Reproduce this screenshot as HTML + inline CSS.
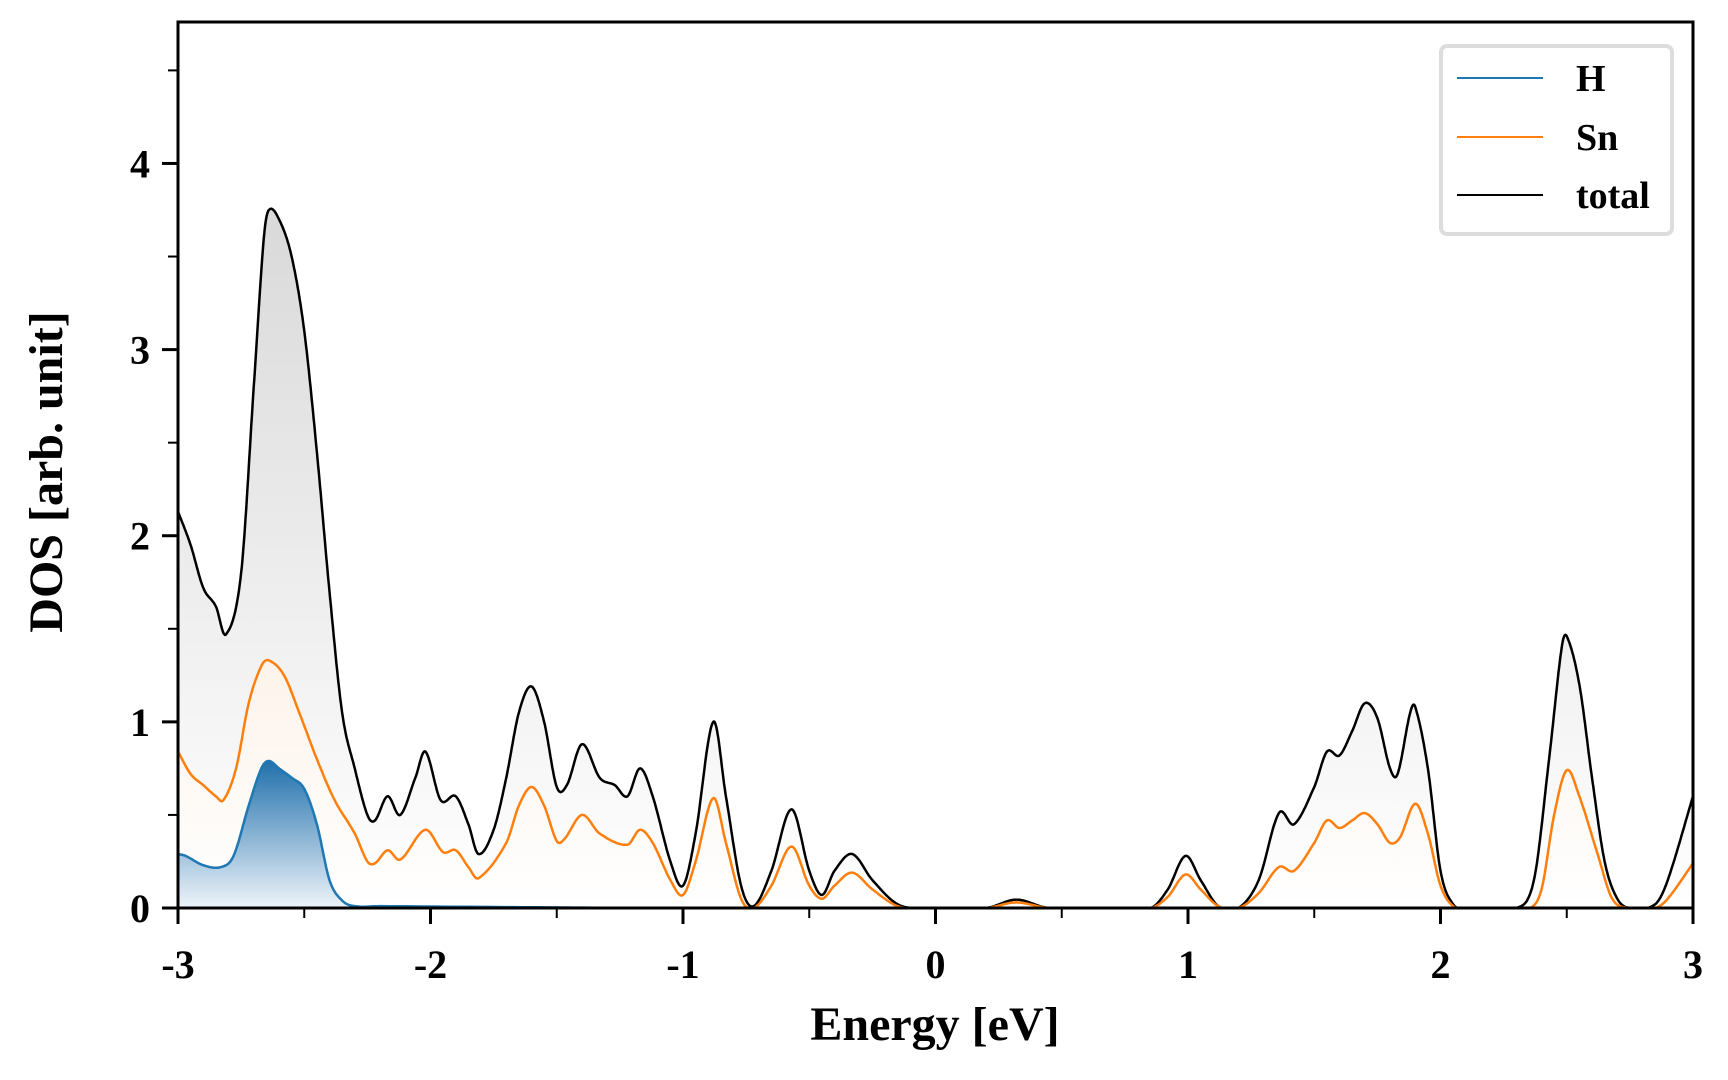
<!DOCTYPE html>
<html><head><meta charset="utf-8"><style>
html,body{margin:0;padding:0;background:#fff;}
svg{display:block;font-family:"Liberation Serif",serif;font-weight:bold;}
</style></head><body>
<svg id="chart" width="1728" height="1080" viewBox="0 0 1728 1080">
<defs>
<linearGradient id="gTot" gradientUnits="userSpaceOnUse" x1="0" y1="210" x2="0" y2="908"><stop offset="0" stop-color="#d9d9d9"/><stop offset="1" stop-color="#ffffff"/></linearGradient>
<linearGradient id="gSn" gradientUnits="userSpaceOnUse" x1="0" y1="660" x2="0" y2="908"><stop offset="0" stop-color="#fdf3ea"/><stop offset="1" stop-color="#ffffff"/></linearGradient>
<linearGradient id="gH" gradientUnits="userSpaceOnUse" x1="0" y1="760" x2="0" y2="908"><stop offset="0" stop-color="#1f6fab"/><stop offset="1" stop-color="#eef4fa"/></linearGradient>
</defs>
<g id="fills"></g><g id="lines"></g><g id="axes"></g>
</svg>
<script>
const totalX=[-3,-2.95,-2.9,-2.85,-2.81,-2.75,-2.7,-2.66,-2.64,-2.6,-2.55,-2.5,-2.45,-2.4,-2.35,-2.3,-2.25,-2.22,-2.17,-2.12,-2.06,-2.02,-1.96,-1.9,-1.85,-1.81,-1.75,-1.7,-1.65,-1.6,-1.55,-1.5,-1.46,-1.4,-1.33,-1.27,-1.22,-1.17,-1.12,-1.05,-1.0,-0.95,-0.88,-0.83,-0.77,-0.72,-0.65,-0.57,-0.5,-0.45,-0.4,-0.33,-0.25,-0.15,-0.05,0.2,0.32,0.45,0.85,0.92,0.99,1.05,1.12,1.2,1.28,1.36,1.42,1.5,1.55,1.6,1.65,1.7,1.75,1.8,1.83,1.88,1.9,1.95,2.0,2.05,2.1,2.3,2.37,2.43,2.48,2.5,2.55,2.6,2.65,2.7,2.75,2.85,2.9,3.0];
const totalY=[2.13,1.95,1.72,1.62,1.47,1.8,2.8,3.6,3.75,3.7,3.5,3.1,2.45,1.7,1.05,0.75,0.5,0.47,0.6,0.5,0.7,0.84,0.58,0.6,0.45,0.29,0.42,0.7,1.05,1.19,1.0,0.65,0.66,0.88,0.7,0.66,0.6,0.75,0.6,0.25,0.12,0.4,1.0,0.6,0.12,0.01,0.2,0.53,0.2,0.07,0.2,0.29,0.15,0.02,0,0,0.045,0,0,0.1,0.28,0.15,0.01,0,0.15,0.51,0.45,0.65,0.84,0.82,0.95,1.1,1.02,0.75,0.72,1.05,1.08,0.75,0.2,0.02,0,0,0.15,0.8,1.4,1.46,1.2,0.7,0.25,0.05,0,0.02,0.15,0.6];
const snX=[-3,-2.95,-2.9,-2.85,-2.82,-2.77,-2.72,-2.67,-2.64,-2.58,-2.52,-2.45,-2.38,-2.3,-2.25,-2.22,-2.17,-2.12,-2.02,-1.95,-1.9,-1.85,-1.81,-1.7,-1.65,-1.6,-1.55,-1.5,-1.47,-1.4,-1.33,-1.22,-1.17,-1.12,-1.05,-1.0,-0.95,-0.88,-0.83,-0.77,-0.72,-0.65,-0.57,-0.5,-0.45,-0.4,-0.33,-0.25,-0.15,-0.05,0.2,0.32,0.45,0.85,0.92,0.99,1.05,1.12,1.2,1.28,1.36,1.42,1.5,1.55,1.6,1.65,1.7,1.75,1.8,1.84,1.9,1.95,2.0,2.05,2.1,2.35,2.4,2.45,2.5,2.55,2.62,2.68,2.75,2.85,2.9,3.0];
const snY=[0.84,0.72,0.66,0.6,0.58,0.75,1.1,1.3,1.33,1.25,1.05,0.8,0.58,0.4,0.25,0.24,0.31,0.26,0.42,0.3,0.31,0.22,0.16,0.35,0.55,0.65,0.55,0.36,0.37,0.5,0.4,0.34,0.42,0.35,0.15,0.07,0.25,0.59,0.35,0.05,0,0.12,0.33,0.12,0.05,0.12,0.19,0.1,0.01,0,0,0.03,0,0,0.06,0.18,0.1,0.01,0,0.08,0.22,0.2,0.35,0.47,0.43,0.47,0.51,0.45,0.35,0.38,0.56,0.4,0.12,0.01,0,0,0.1,0.5,0.74,0.6,0.3,0.05,0,0,0.05,0.24];
const hX=[-3,-2.97,-2.9,-2.83,-2.78,-2.72,-2.67,-2.64,-2.6,-2.55,-2.5,-2.45,-2.4,-2.35,-2.3,-2.2,-1.5,-1.0,3.0];
const hY=[0.29,0.28,0.23,0.22,0.28,0.55,0.75,0.79,0.75,0.7,0.64,0.45,0.15,0.04,0.01,0.01,0.003,0,0];
const xTicks=[-3,-2,-1,0,1,2,3];
const xTickLabels=["-3","-2","-1","0","1","2","3"];
const yTicks=[0,1,2,3,4];
const yTickLabels=["0","1","2","3","4"];

const L=178,R=1693,T=22,B=908,xMin=-3,xMax=3,yMin=0,yMax=4.76;
const sx=v=>L+(v-xMin)/(xMax-xMin)*(R-L);
const sy=v=>B-(v-yMin)/(yMax-yMin)*(B-T);
const NS='http://www.w3.org/2000/svg';
function mk(tag,attrs,parent){const e=document.createElementNS(NS,tag);for(const k in attrs)e.setAttribute(k,attrs[k]);parent.appendChild(e);return e;}
function smooth(xs,ys){const pts=[];const n=xs.length;
 for(let i=0;i<n-1;i++){const x0=xs[Math.max(i-1,0)],y0=ys[Math.max(i-1,0)],x1=xs[i],y1=ys[i],x2=xs[i+1],y2=ys[i+1],x3=xs[Math.min(i+2,n-1)],y3=ys[Math.min(i+2,n-1)];
  const m1=(y2-y0)/((x2-x0)||1),m2=(y3-y1)/((x3-x1)||1);const h=x2-x1;
  for(let s=0;s<20;s++){const t=s/20,t2=t*t,t3=t2*t;
   let y=(2*t3-3*t2+1)*y1+(t3-2*t2+t)*h*m1+(-2*t3+3*t2)*y2+(t3-t2)*h*m2;
   if(y<0)y=0;pts.push([sx(x1+t*h),sy(y)]);}}
 pts.push([sx(xs[n-1]),sy(ys[n-1])]);return pts;}
const fills=document.getElementById('fills'),lines=document.getElementById('lines'),axes=document.getElementById('axes');
function series(xs,ys,color,grad,name){const p=smooth(xs,ys);const d=p.map((q,i)=>(i?'L':'M')+q[0].toFixed(1)+' '+q[1].toFixed(1)).join('');
 const f=mk('path',{d:d+'L'+sx(xs[xs.length-1])+' '+B+'L'+sx(xs[0])+' '+B+'Z',fill:'url(#'+grad+')'},fills);
 
 
 const l=mk('path',{d:d,fill:'none',stroke:color,'stroke-width':2.5},lines);
 
 }
series(totalX,totalY,'#000','gTot','total');
series(snX,snY,'#ff7f0e','gSn','sn');
series(hX,hY,'#1f77b4','gH','h');
const fr=mk('rect',{x:L,y:T,width:R-L,height:B-T,fill:'none',stroke:'#000','stroke-width':3},axes);


xTicks.forEach((v,i)=>{mk('line',{x1:sx(v),x2:sx(v),y1:B,y2:B+16,stroke:'#000','stroke-width':3},axes);
 const t=mk('text',{x:sx(v),y:978,'text-anchor':'middle','font-size':40},axes);t.textContent=xTickLabels[i];
 
 
 if(i<xTicks.length-1)mk('line',{x1:sx(v+0.5),x2:sx(v+0.5),y1:B,y2:B+10,stroke:'#000','stroke-width':2},axes);});
yTicks.forEach((v,i)=>{mk('line',{x1:L-16,x2:L,y1:sy(v),y2:sy(v),stroke:'#000','stroke-width':3},axes);
 const t=mk('text',{x:150,y:sy(v)+14,'text-anchor':'end','font-size':40},axes);t.textContent=yTickLabels[i];
 
 
 mk('line',{x1:L-10,x2:L,y1:sy(v+0.5),y2:sy(v+0.5),stroke:'#000','stroke-width':2},axes);});
const xt=mk('text',{x:935,y:1040,'text-anchor':'middle','font-size':48},axes);xt.textContent='Energy [eV]';


const yt=mk('text',{x:0,y:0,'text-anchor':'middle','font-size':48,transform:'translate(62,472) rotate(-90)'},axes);yt.textContent='DOS [arb. unit]';


const lg=mk('g',{},axes);


mk('rect',{x:1441,y:46,width:231,height:188,rx:6,fill:'#fff',stroke:'#dddddd','stroke-width':4},lg);
const legNames=['H','Sn','total'],legColors=['#1f77b4','#ff7f0e','#000'],legY=[78,137,195];
legNames.forEach((n,i)=>{const g=mk('g',{},lg);
 
 
 mk('line',{x1:1457,x2:1543,y1:legY[i],y2:legY[i],stroke:legColors[i],'stroke-width':2},g);
 const t=mk('text',{x:1576,y:legY[i]+13,'font-size':38},g);t.textContent=n;});
</script>
</body></html>
